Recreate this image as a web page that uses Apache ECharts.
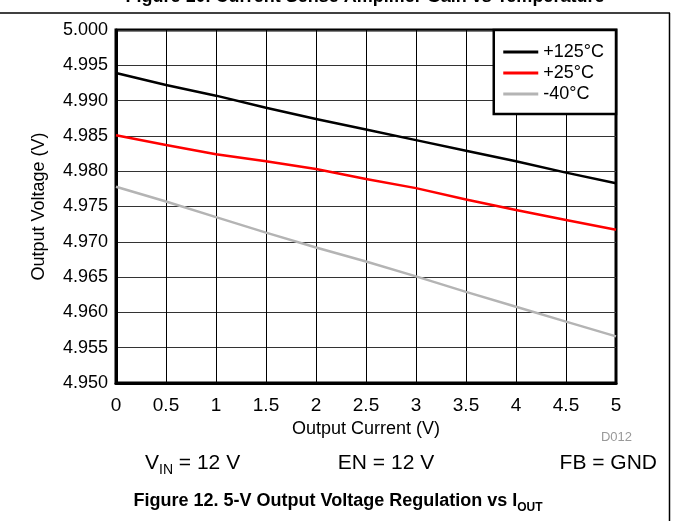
<!DOCTYPE html>
<html>
<head>
<meta charset="utf-8">
<script src="https://cdn.jsdelivr.net/npm/echarts@6/dist/echarts.min.js"></script>
<style>
html, body { margin: 0; padding: 0; background: #fff; }
#main { width: 673px; height: 521px; }
</style>
</head>
<body>
<div id="main"></div>
<script>
// output current (x) and output voltage per temperature
var current = [0, 0.5, 1, 1.5, 2, 2.5, 3, 3.5, 4, 4.5, 5];
var v125 = [4.9939, 4.9922, 4.9907, 4.9890, 4.9874, 4.9859, 4.9844, 4.9829, 4.9814, 4.9798, 4.9783];
var v25  = [4.9851, 4.9837, 4.9824, 4.9814, 4.9803, 4.9789, 4.9776, 4.9760, 4.9745, 4.9731, 4.9717];
var vm40 = [4.9778, 4.9757, 4.9735, 4.9713, 4.9692, 4.9672, 4.9651, 4.9629, 4.9608, 4.9587, 4.9566];
var names = ['+125°C', '+25°C', '-40°C'];
var colors = ['#000000', '#ff0000', '#b4b4b4'];

var FONT = 'Liberation Sans, Arial, Helvetica, sans-serif';

function pairs(ys) {
    var out = [];
    for (var i = 0; i < current.length; i++) out.push([current[i], ys[i]]);
    return out;
}

var myChart = echarts.init(document.getElementById('main'), null, {renderer: 'canvas'});

var series = [v125, v25, vm40].map(function (ys, i) {
    return {
        name: names[i],
        type: 'line',
        data: pairs(ys),
        symbol: 'none',
        smooth: false,
        lineStyle: {color: colors[i], width: 2.5},
        itemStyle: {color: colors[i]},
        z: 5 - i
    };
});

var option = {
    animation: false,
    backgroundColor: '#fff',
    textStyle: {fontFamily: FONT},
    grid: {
        left: 116, right: 57, top: 30, bottom: 138,
        show: true, borderColor: '#000', borderWidth: 3,
        containLabel: false
    },
    legend: {
        data: names,
        orient: 'vertical',
        right: 57, top: 30,
        itemWidth: 35, itemHeight: 14, itemGap: 3,
        padding: [13, 12, 11, 8],
        borderColor: '#000', borderWidth: 2.5,
        backgroundColor: '#fff',
        itemStyle: {opacity: 0},
        lineStyle: {width: 3},
        textStyle: {fontSize: 18, color: '#000', fontFamily: FONT}
    },
    xAxis: {
        type: 'value',
        min: 0, max: 5, interval: 0.5,
        name: 'Output Current (V)',
        nameLocation: 'middle',
        nameGap: 33,
        nameTextStyle: {fontSize: 18, color: '#000', fontFamily: FONT},
        axisLine: {show: true, lineStyle: {color: '#000', width: 3}},
        axisTick: {show: false},
        axisLabel: {fontSize: 19, color: '#000', margin: 13, fontFamily: FONT},
        splitLine: {show: true, lineStyle: {color: '#000', width: 1}}
    },
    yAxis: {
        type: 'value',
        min: 4.95, max: 5.0, interval: 0.005,
        name: 'Output Voltage (V)',
        nameLocation: 'middle',
        nameGap: 68,
        nameTextStyle: {fontSize: 18, color: '#000', fontFamily: FONT},
        axisLine: {show: true, lineStyle: {color: '#000', width: 3}},
        axisTick: {show: false},
        axisLabel: {
            fontSize: 18, color: '#000', margin: 8, fontFamily: FONT,
            formatter: function (v) { return v.toFixed(3); }
        },
        splitLine: {show: true, lineStyle: {color: '#333', width: 1}}
    },
    graphic: [
        // cut-off caption of the previous figure
        {
            type: 'text', x: 365, y: 6, z: 10,
            style: {
                text: 'Figure 10. Current Sense Amplifier Gain vs Temperature',
                font: 'bold 18px ' + FONT, fill: '#000',
                align: 'center', verticalAlign: 'bottom'
            }
        },
        {
            type: 'line', z: 10,
            shape: {x1: 0, y1: 13, x2: 670, y2: 13},
            style: {stroke: '#000', lineWidth: 1.5}
        },
        {
            type: 'line', z: 10,
            shape: {x1: 669.5, y1: 13, x2: 669.5, y2: 521},
            style: {stroke: '#000', lineWidth: 1.5}
        },
        {
            type: 'text', x: 632, y: 437,
            style: {
                text: 'D012', font: '13px ' + FONT, fill: '#999',
                align: 'right', verticalAlign: 'middle'
            }
        },
        {
            type: 'text', x: 145, y: 463,
            style: {
                text: '{m|V}{s|IN}{m| = 12 V}',
                align: 'left', verticalAlign: 'middle',
                rich: {
                    m: {fontSize: 21, fontFamily: FONT, fill: '#000', lineHeight: 28},
                    s: {fontSize: 14, fontFamily: FONT, fill: '#000', lineHeight: 15, verticalAlign: 'bottom'}
                }
            }
        },
        {
            type: 'text', x: 386, y: 463,
            style: {
                text: 'EN = 12 V', font: '21px ' + FONT, fill: '#000',
                align: 'center', verticalAlign: 'middle'
            }
        },
        {
            type: 'text', x: 657, y: 463,
            style: {
                text: 'FB = GND', font: '21px ' + FONT, fill: '#000',
                align: 'right', verticalAlign: 'middle'
            }
        },
        {
            type: 'text', x: 338, y: 501,
            style: {
                text: '{b|Figure 12. 5-V Output Voltage Regulation vs I}{s|OUT}',
                align: 'center', verticalAlign: 'middle',
                rich: {
                    b: {fontSize: 18, fontWeight: 'bold', fontFamily: FONT, fill: '#000', lineHeight: 26},
                    s: {fontSize: 12, fontWeight: 'bold', fontFamily: FONT, fill: '#000', lineHeight: 14, verticalAlign: 'bottom'}
                }
            }
        }
    ],
    series: series
};

myChart.setOption(option);
</script>
</body>
</html>
